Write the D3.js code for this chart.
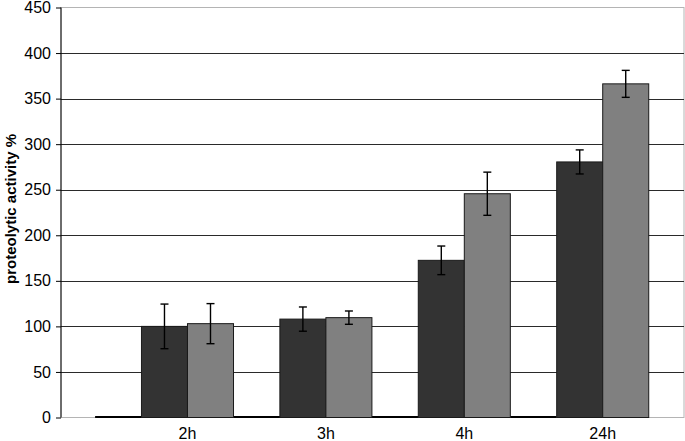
<!DOCTYPE html>
<html><head><meta charset="utf-8">
<script src="https://cdn.jsdelivr.net/npm/d3@7"></script>
<style>
html,body{margin:0;padding:0;background:#fff;}
svg{display:block;font-family:"Liberation Sans",Arial,Helvetica,sans-serif;}
</style></head>
<body><svg id="c" width="685" height="441"></svg>
<script>
const categories = ["2h", "3h", "4h", "24h"];
const seriesNames = ["dark", "gray"];
const darkValues = [100, 108, 172.5, 280.5];
const darkErrors = [24.5, 13.3, 15.7, 13.2];
const grayValues = [103, 109.6, 245.6, 366.2];
const grayErrors = [22, 7.3, 23.7, 14.8];
const yTicks = [0, 50, 100, 150, 200, 250, 300, 350, 400, 450];
const yLabel = "proteolytic activity %";

const svg = d3.select("#c");
const pLeft = 61, pRight = 684, pTop = 7.5, pBottom = 417.5;

const y = d3.scaleLinear().domain([0, 450]).range([pBottom, pTop]);
const x = d3.scaleBand().domain(categories).range([95.1, 695.1]).padding(0.335);
const xs = d3.scaleBand().domain(seriesNames).range([0, x.bandwidth()]);
const colors = {dark: "#333333", gray: "#808080"};

// plot border (light grey)
svg.append("rect").attr("x", pLeft).attr("y", pTop).attr("width", pRight - pLeft).attr("height", pBottom - pTop)
  .attr("fill", "none").attr("stroke", "#b4b4b4").attr("stroke-width", 1);

// gridlines
svg.append("g").selectAll("line").data(yTicks.filter(d => d > 0 && d < 450)).join("line")
  .attr("x1", pLeft).attr("x2", pRight)
  .attr("y1", d => Math.round(y(d)) + 0.5).attr("y2", d => Math.round(y(d)) + 0.5)
  .attr("stroke", "#2a2a2a").attr("stroke-width", 1);

// baseline thick black segment
svg.append("line").attr("x1", x.range()[0]).attr("x2", x("24h"))
  .attr("y1", y(0) - 0.5).attr("y2", y(0) - 0.5).attr("stroke", "#000").attr("stroke-width", 2);

const data = categories.map((c, i) => [
  {cat: c, s: "dark", v: darkValues[i], e: darkErrors[i]},
  {cat: c, s: "gray", v: grayValues[i], e: grayErrors[i]}
]).flat();

// bars
svg.append("g").selectAll("rect").data(data).join("rect")
  .attr("x", d => x(d.cat) + xs(d.s))
  .attr("y", d => y(d.v))
  .attr("width", xs.bandwidth())
  .attr("height", d => y(0) - y(d.v))
  .attr("fill", d => colors[d.s])
  .attr("stroke", "#1a1a1a").attr("stroke-width", 1);

// error bars
const eb = svg.append("g").attr("stroke", "#000").attr("stroke-width", 1.4);
data.forEach(d => {
  const cx = x(d.cat) + xs(d.s) + xs.bandwidth() / 2;
  eb.append("line").attr("x1", cx).attr("x2", cx).attr("y1", y(d.v + d.e)).attr("y2", y(d.v - d.e));
  eb.append("line").attr("x1", cx - 4).attr("x2", cx + 4).attr("y1", y(d.v + d.e)).attr("y2", y(d.v + d.e));
  eb.append("line").attr("x1", cx - 4).attr("x2", cx + 4).attr("y1", y(d.v - d.e)).attr("y2", y(d.v - d.e));
});

// y axis
const yAxis = d3.axisLeft(y).tickValues(yTicks).tickSize(5).tickPadding(5);
const ga = svg.append("g").attr("transform", `translate(${pLeft},0)`).call(yAxis);
ga.select(".domain").attr("stroke", "#000").attr("d", `M0,${pTop}V${pBottom}`);
ga.selectAll(".tick line").attr("stroke", "#000");
ga.selectAll(".tick text").attr("font-size", 16).attr("fill", "#000")
  .attr("font-family", "'Liberation Sans',Arial,sans-serif");

// x labels
svg.append("g").selectAll("text").data(categories).join("text")
  .attr("x", d => x(d) + x.bandwidth() / 2)
  .attr("y", 439)
  .attr("text-anchor", "middle")
  .attr("font-size", 16).attr("fill", "#000")
  .text(d => d);

// y label
svg.append("text")
  .attr("transform", "translate(16,209) rotate(-90)")
  .attr("text-anchor", "middle")
  .attr("font-size", 15).attr("font-weight", "bold").attr("fill", "#000")
  .text(yLabel);
</script></body></html>
